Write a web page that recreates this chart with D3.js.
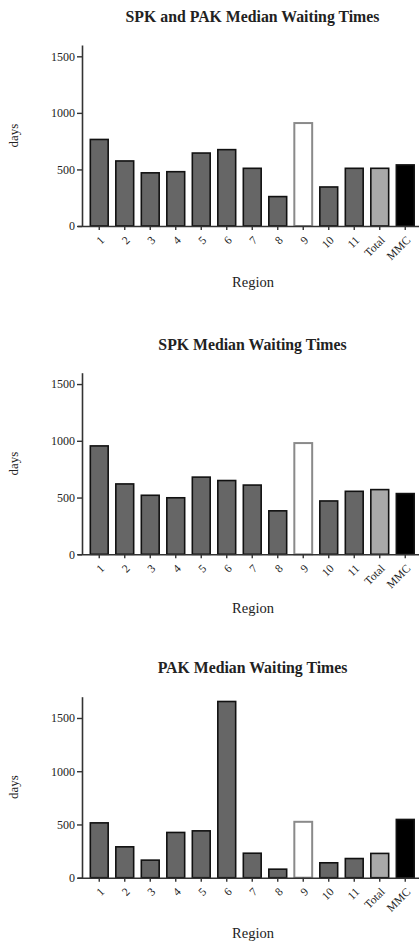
<!DOCTYPE html>
<html>
<head>
<meta charset="utf-8">
<script src="https://cdn.jsdelivr.net/npm/d3@7"></script>
<style>
  html, body { margin: 0; padding: 0; background: #fff; }
  svg { display: block; }
  text { font-family: "Liberation Serif", "DejaVu Serif", serif; fill: #222; }
</style>
</head>
<body>
<script>
// ---- data ----
const regions = ["1", "2", "3", "4", "5", "6", "7", "8", "9", "10", "11", "Total", "MMC"];
const bothValues = [765, 575, 470, 480, 645, 675, 510, 260, 910, 345, 510, 510, 540];
const spkValues  = [955, 620, 520, 498, 680, 650, 610, 383, 980, 470, 555, 570, 535];
const pakValues  = [515, 290, 165, 425, 440, 1655, 230, 80, 525, 140, 180, 228, 547];
const yTicks = [0, 500, 1000, 1500];
const titles = ["SPK and PAK Median Waiting Times", "SPK Median Waiting Times", "PAK Median Waiting Times"];
const yMax = [1600, 1600, 1700];
const xTitle = "Region";
const yTitle = "days";

// ---- layout ----
const W = 419, H = 942;
const axisX = 82, rightX = 419;
const panels = [
  { top: 45,    zero: 226,   titleY: 22,  regionY: 287 },
  { top: 372.7, zero: 554.3, titleY: 350, regionY: 613 },
  { top: 696.7, zero: 877.7, titleY: 673, regionY: 938 }
];
const seriesList = [bothValues, spkValues, pakValues];

const svg = d3.select("body").append("svg").attr("width", W).attr("height", H);

const x = d3.scaleBand().domain(regions).range([86.5, 418]).paddingInner(0.3).paddingOuter(0.15);

function fillFor(r) {
  if (r === "Total") return "#a9a9a9";
  if (r === "MMC") return "#000";
  if (r === "9") return "#fff";
  return "#666";
}
function strokeFor(r) {
  if (r === "9") return "#8a8a8a";
  return "#111";
}

panels.forEach((p, i) => {
  const vals = seriesList[i];
  const y = d3.scaleLinear().domain([0, yMax[i]]).range([p.zero, p.top]);
  const g = svg.append("g");

  // title
  g.append("text")
    .attr("x", 252.5).attr("y", p.titleY)
    .attr("text-anchor", "middle")
    .attr("font-size", 15.8).attr("font-weight", "bold")
    .attr("fill", "#333")
    .text(titles[i]);

  // bars
  g.selectAll("rect.bar").data(regions).enter().append("rect")
    .attr("class", "bar")
    .attr("x", d => x(d))
    .attr("width", x.bandwidth())
    .attr("y", (d, j) => y(vals[j]))
    .attr("height", (d, j) => p.zero - y(vals[j]))
    .attr("fill", d => fillFor(d))
    .attr("stroke", d => strokeFor(d))
    .attr("stroke-width", d => d === "9" ? 2 : 1.6);

  // y axis
  const yAxis = d3.axisLeft(y).tickValues(yTicks).tickFormat(d3.format("d"))
    .tickSize(5).tickPadding(2).tickSizeOuter(0);
  const ya = g.append("g").attr("transform", `translate(${axisX},0)`).call(yAxis);
  ya.attr("font-family", '"Liberation Serif", serif');
  ya.select(".domain").attr("stroke", "#333").attr("stroke-width", 1.6);
  ya.selectAll(".tick line").attr("stroke", "#333").attr("stroke-width", 1.4);
  ya.selectAll(".tick text").attr("font-size", 12).attr("fill", "#222");

  // x axis
  const xAxis = d3.axisBottom(x).tickSize(4).tickSizeOuter(0).tickPadding(3);
  const xa = g.append("g").attr("transform", `translate(0,${p.zero})`).call(xAxis);
  xa.attr("font-family", '"Liberation Serif", serif');
  xa.select(".domain").attr("d", `M${axisX - 4},0.5H${rightX}`).attr("stroke", "#333").attr("stroke-width", 1.6);
  xa.selectAll(".tick line").attr("stroke", "#333").attr("stroke-width", 1.4);
  xa.selectAll(".tick text")
    .attr("font-size", 11.5).attr("fill", "#222")
    .attr("text-anchor", "end")
    .attr("dy", "0.35em")
    .attr("transform", "translate(3,12) rotate(-45)")
    .attr("y", 0).attr("x", 0);

  // axis titles
  g.append("text")
    .attr("x", 253).attr("y", p.regionY)
    .attr("text-anchor", "middle")
    .attr("font-size", 14.5)
    .text(xTitle);
  g.append("text")
    .attr("transform", `translate(18,${(p.top + p.zero) / 2}) rotate(-90)`)
    .attr("text-anchor", "middle")
    .attr("font-size", 13)
    .text(yTitle);
});
</script>
</body>
</html>
